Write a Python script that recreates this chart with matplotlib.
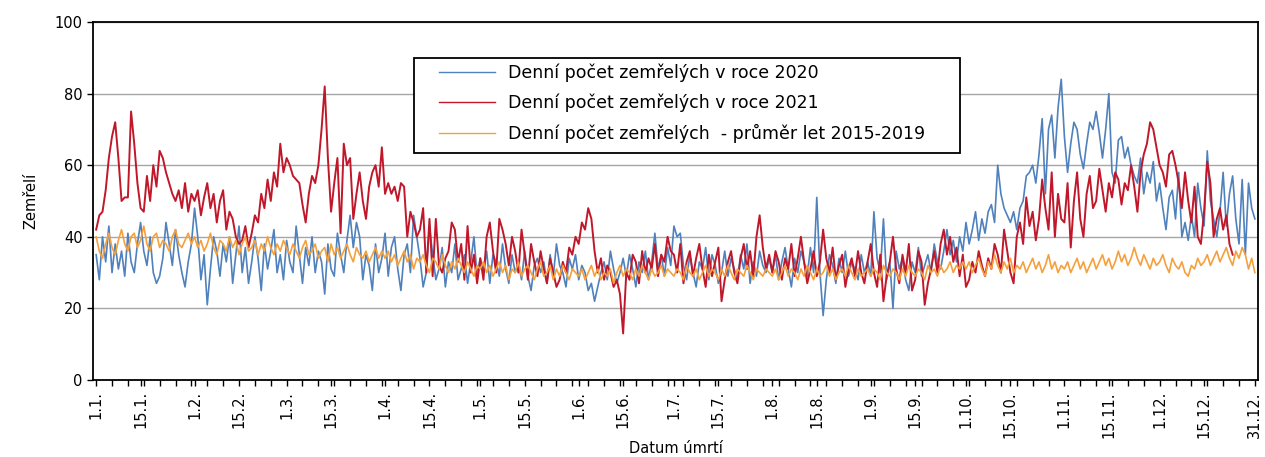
import matplotlib
matplotlib.use("Agg")
import matplotlib.pyplot as plt
from matplotlib.patches import Rectangle
import numpy as np

# denni pocet zemrelych, 2020 (prestupny rok, 366 dni)
deaths_2020 = [
    # leden
    35, 28, 40, 33, 43, 30, 38, 31, 36, 29, 41, 33, 30, 38, 44, 36, 32, 40, 30, 27,
    29, 34, 44, 38, 32, 42, 35, 30, 26, 33, 38,
    # unor
    48, 40, 28, 35, 21, 31, 40, 36, 29, 38, 33, 40, 27, 35, 43, 30, 37, 27, 33, 40,
    34, 25, 38, 31, 36, 42, 30, 35, 28,
    # brezen
    39, 33, 30, 43, 35, 27, 37, 32, 40, 30, 36, 33, 24, 38, 31, 29, 41, 35, 30, 39,
    46, 37, 44, 40, 28, 35, 32, 25, 38, 30, 34,
    # duben
    41, 29, 37, 40, 31, 25, 35, 38, 30, 46, 40, 34, 26, 30, 43, 35, 28, 31, 37, 26,
    33, 30, 38, 28, 31, 35, 27, 33, 40, 29,
    # kveten
    34, 30, 36, 27, 35, 33, 29, 38, 31, 27, 35, 30, 33, 28, 36, 29, 25, 32, 34, 30,
    33, 27, 35, 29, 38, 32, 30, 26, 34, 31, 35,
    # cerven
    28, 32, 30, 25, 27, 22, 26, 30, 33, 28, 36, 31, 27, 30, 34, 29, 35, 31, 26, 33,
    30, 36, 28, 33, 41, 31, 35, 29, 37, 32,
    # cervenec
    43, 40, 41, 32, 28, 35, 30, 26, 33, 31, 37, 28, 35, 32, 27, 30, 36, 29, 34, 31,
    28, 35, 31, 38, 27, 33, 29, 36, 32, 30, 34,
    # srpen
    30, 35, 28, 33, 37, 31, 26, 34, 30, 36, 33, 29, 37, 30, 51, 30, 18, 28, 35, 32,
    27, 34, 30, 36, 29, 33, 31, 28, 35, 30, 33,
    # zari
    29, 47, 34, 30, 45, 28, 33, 20, 36, 31, 34, 28, 25, 33, 30, 37, 29, 32, 35, 30,
    38, 33, 31, 36, 42, 35, 39, 33, 40, 36,
    # rijen
    44, 38, 42, 47, 39, 45, 41, 47, 49, 44, 60, 52, 48, 46, 44, 47, 42, 48, 50, 57,
    58, 60, 55, 63, 73, 52, 70, 74, 62, 76, 84,
    # listopad
    68, 58, 66, 72, 70, 63, 59, 66, 72, 70, 75, 69, 62, 70, 80, 58, 55, 67, 68, 62,
    65, 60, 57, 55, 62, 52, 58, 55, 61, 50,
    # prosinec
    55, 48, 42, 51, 53, 45, 58, 40, 44, 39, 46, 40, 55, 48, 43, 64, 50, 45, 40, 47,
    58, 43, 52, 57, 45, 38, 56, 35, 55, 48, 45,
]

# denni pocet zemrelych, 2021 (data do konce prosince nejsou kompletni)
deaths_2021 = [
    # leden
    42, 46, 47, 53, 62, 68, 72, 62, 50, 51, 51, 75, 66, 55, 48, 47, 57, 50, 60, 54,
    64, 62, 58, 55, 52, 50, 53, 48, 55, 47, 52,
    # unor
    50, 53, 46, 51, 55, 48, 52, 44, 50, 53, 42, 47, 45, 40, 38, 39, 43, 37, 41, 46,
    44, 52, 48, 56, 50, 58, 54, 66, 58,
    # brezen
    62, 60, 57, 56, 55, 49, 44, 52, 57, 55, 60, 70, 82, 62, 47, 55, 62, 41, 66, 60,
    62, 45, 52, 58, 50, 45, 54, 58, 60, 54, 65,
    # duben
    52, 55, 52, 54, 50, 55, 54, 40, 47, 44, 40, 42, 48, 30, 45, 29, 45, 32, 30, 34,
    36, 44, 42, 33, 38, 28, 43, 30, 35, 27,
    # kveten
    34, 28, 40, 44, 36, 30, 45, 42, 38, 32, 40, 36, 30, 42, 35, 28, 38, 33, 29, 36,
    31, 27, 34, 30, 26, 28, 33, 30, 37, 35, 40,
    # cerven
    38, 44, 42, 48, 45, 36, 30, 34, 28, 32, 30, 26, 28, 24, 13, 30, 28, 35, 33, 27,
    36, 30, 34, 31, 38, 29, 35, 33, 40, 36,
    # cervenec
    35, 30, 38, 27, 33, 36, 29, 34, 38, 31, 26, 35, 29, 33, 37, 22, 28, 33, 36, 30,
    27, 34, 38, 31, 36, 29, 40, 46, 37, 31, 35,
    # srpen
    30, 36, 33, 28, 34, 31, 38, 29, 34, 40, 33, 27, 31, 36, 29, 33, 42, 34, 30, 37,
    28, 32, 35, 26, 31, 34, 29, 36, 30, 27, 33,
    # zari
    38, 30, 26, 35, 22, 29, 33, 40, 31, 27, 35, 30, 38, 25, 28, 36, 33, 21, 27, 31,
    36, 30, 38, 42, 35, 40, 33, 37, 29, 35,
    # rijen
    26, 28, 33, 30, 36, 32, 29, 34, 31, 38, 35, 30, 42, 36, 30, 27, 40, 44, 38, 51,
    43, 47, 39, 45, 56, 48, 42, 58, 40, 52, 45,
    # listopad
    44, 55, 37, 50, 58, 45, 40, 52, 57, 48, 50, 59, 53, 47, 55, 51, 58, 56, 49, 55,
    53, 60, 54, 47, 58, 63, 66, 72, 70, 65,
    # prosinec
    60, 58, 54, 63, 64, 60, 55, 48, 58, 50, 44, 54, 40, 38, 47, 61, 55, 40, 45, 48,
    42, 46, 38, 35,
]

# prumer let 2015-2019
deaths_avg = [
    # leden
    40, 36, 34, 38, 41, 37, 35, 39, 42, 38, 36, 40, 41, 37, 39, 43, 38, 36, 40, 41,
    37, 39, 38, 36, 40, 42, 38, 37, 39, 41, 38,
    # unor
    40, 37, 39, 36, 38, 41, 37, 35, 39, 38, 36, 40, 37, 39, 35, 38, 40, 36, 37, 39,
    35, 38, 36, 40, 37, 35, 38, 36, 39,
    # brezen
    37, 35, 38, 36, 34, 37, 39, 35, 36, 38, 34, 36, 37, 33, 38, 35, 37, 34, 36, 38,
    35, 33, 37, 35, 34, 36, 33, 35, 37, 34, 36,
    # duben
    34, 36, 33, 35, 32, 34, 36, 33, 35, 31, 34, 33, 35, 32, 30, 34, 33, 31, 35, 32,
    30, 33, 31, 34, 32, 30, 33, 31, 29, 32,
    # kveten
    31, 33, 30, 32, 29, 31, 33, 30, 32, 28, 31, 30, 33, 29, 31, 32, 30, 28, 31, 33,
    29, 30, 32, 28, 31, 29, 32, 30, 28, 31, 30,
    # cerven
    29, 31, 28, 30, 32, 29, 31, 28, 30, 29, 31, 27, 30, 32, 29, 31, 30, 28, 31, 29,
    32, 30, 28, 31, 29, 30, 32, 29, 31, 30,
    # cervenec
    29, 31, 30, 28, 32, 30, 29, 31, 28, 30, 32, 29, 31, 30, 28, 31, 29, 32, 30, 28,
    31, 30, 29, 32, 30, 28, 31, 30, 29, 31, 30,
    # srpen
    29, 31, 28, 30, 32, 29, 31, 30, 28, 31, 29, 32, 30, 28, 31, 29, 30, 32, 29, 31,
    28, 30, 31, 29, 32, 30, 28, 31, 29, 30, 31,
    # zari
    29, 31, 30, 28, 32, 30, 29, 31, 30, 28, 31, 29, 32, 30, 29, 31, 30, 28, 32, 30,
    31, 29, 32, 30, 31, 33, 30, 32, 31, 33,
    # rijen
    31, 33, 30, 32, 34, 31, 29, 33, 31, 35, 32, 30, 33, 31, 34, 30, 32, 31, 33, 30,
    32, 34, 31, 33, 30, 32, 35, 31, 33, 30, 32,
    # listopad
    31, 33, 30, 32, 34, 31, 33, 30, 32, 34, 31, 33, 35, 32, 34, 31, 33, 36, 33, 35,
    32, 34, 37, 34, 32, 35, 33, 31, 34, 32,
    # prosinec
    33, 35, 32, 30, 34, 32, 31, 33, 30, 29, 32, 31, 34, 32, 33, 35, 32, 34, 36, 33,
    35, 37, 34, 32, 36, 34, 37, 35, 31, 34, 30,
]

# popisky osy x (den v roce 2020, od 0)
tick_days = [0, 14, 31, 45, 60, 74, 91, 105, 121, 135, 152, 166, 182, 196,
             213, 227, 244, 258, 274, 288, 305, 319, 335, 349, 365]
tick_labels = ["1.1.", "15.1.", "1.2.", "15.2.", "1.3.", "15.3.", "1.4.", "15.4.",
               "1.5.", "15.5.", "1.6.", "15.6.", "1.7.", "15.7.", "1.8.", "15.8.",
               "1.9.", "15.9.", "1.10.", "15.10.", "1.11.", "15.11.", "1.12.",
               "15.12.", "31.12."]

labels = ["Denní počet zemřelých v roce 2020",
          "Denní počet zemřelých v roce 2021",
          "Denní počet zemřelých  - průměr let 2015-2019"]

plt.rcParams['font.family'] = ['DejaVu Sans']

fig = plt.figure(figsize=(12.65, 4.57), dpi=100)
ax = fig.add_axes([0.0735, 0.1685, 0.921, 0.7834])

ax.plot(np.arange(len(deaths_2020)), deaths_2020, color='#4F81BD', lw=1.2, label=labels[0])
ax.plot(np.arange(len(deaths_2021)), deaths_2021, color='#C0182A', lw=1.4, label=labels[1])
ax.plot(np.arange(len(deaths_avg)), deaths_avg, color='#F5A03C', lw=1.2, label=labels[2])

ax.set_xlim(-1, 366)
ax.set_ylim(0, 100)
ax.set_yticks([0, 20, 40, 60, 80, 100])
ax.yaxis.grid(True, color='#A6A6A6', lw=1)
ax.set_axisbelow(True)

ax.set_xticks(tick_days)
ax.set_xticklabels(tick_labels, rotation=90, fontsize=10.5)
ax.set_xticks(np.arange(0, 366, 5), minor=True)
ax.tick_params(axis='x', which='both', direction='out', length=4, width=1, pad=4)
ax.tick_params(axis='y', direction='out', length=4, width=1, labelsize=10.5)

for s in ax.spines.values():
    s.set_linewidth(1.3)
    s.set_color('black')

ax.set_xlabel("Datum úmrtí", fontsize=10.5, labelpad=2)
ax.set_ylabel("Zemřelí", fontsize=10.5, labelpad=12)

# ramecek legendy kreslim zvlast, aby sedely okraje
box = Rectangle((0.2755, 0.634), 0.4685, 0.265, transform=ax.transAxes,
                facecolor='white', edgecolor='black', lw=1.3, zorder=4)
ax.add_patch(box)
leg = ax.legend(loc='upper left', bbox_to_anchor=(0.297, 0.885), fontsize=12.5,
                frameon=False, handlelength=3.2, handletextpad=0.75,
                labelspacing=0.68, borderpad=0, borderaxespad=0)
leg.set_zorder(5)
for line in leg.get_lines():
    line.set_linewidth(1.0)

fig.savefig("out.png", dpi=100)
